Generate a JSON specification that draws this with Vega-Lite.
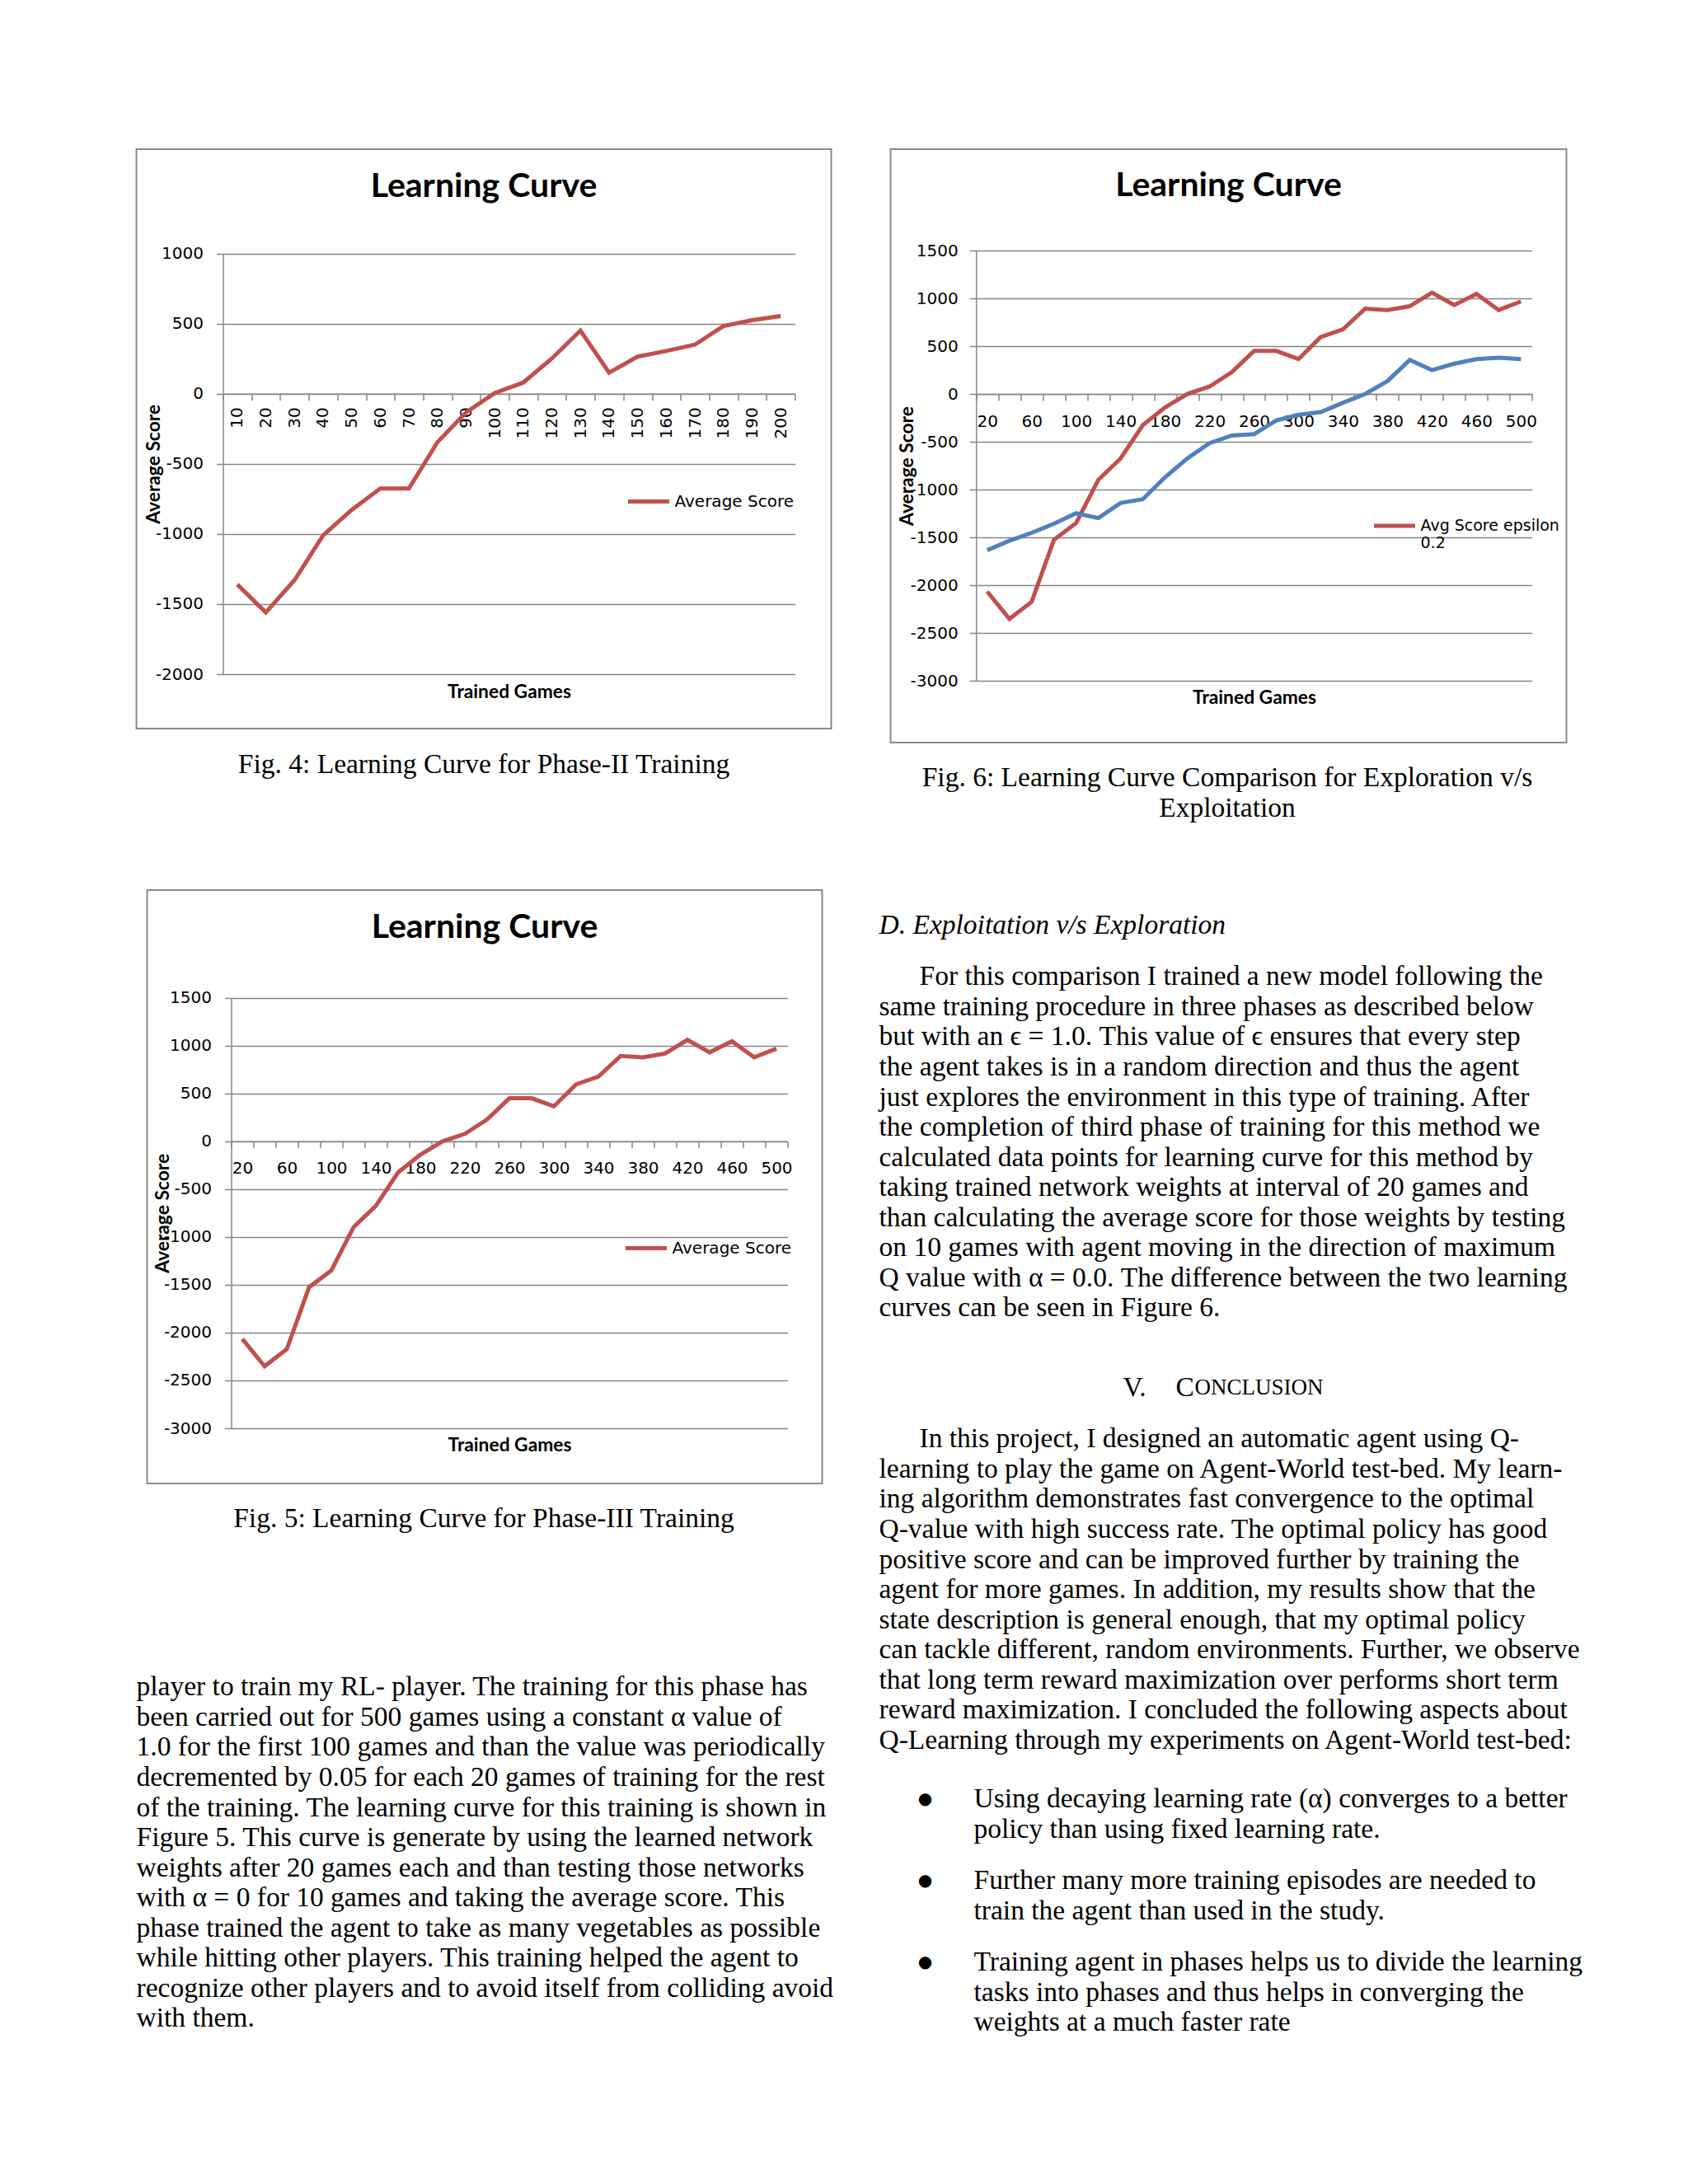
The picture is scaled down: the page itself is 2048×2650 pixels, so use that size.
{
"$schema": "https://vega.github.io/schema/vega-lite/v6.json",
"background": "white",
"padding": {"left": 154.5, "top": 180, "right": 10, "bottom": 10},
"spacing": 55,
"resolve": {"scale": {"color": "independent"}, "legend": {"color": "independent"}},
"config": {
  "view": {"stroke": null},
  "text": {"font": "Liberation Serif", "fontSize": 33.5, "color": "#000000", "baseline": "middle", "align": "left"},
  "axis": {"labelFont": "DejaVu Sans", "labelFontSize": 20, "labelColor": "#000000", "titleFont": "Lato", "titleFontWeight": "bold", "titleFontSize": 22.8, "titleColor": "#000000", "domainColor": "#868686", "domainWidth": 1.5, "tickColor": "#868686", "tickWidth": 1.5, "tickSize": 8, "gridColor": "#868686", "gridWidth": 1.5, "gridOpacity": 1},
  "title": {"font": "Lato", "fontWeight": "bold", "fontSize": 41, "color": "#000000", "anchor": "middle", "frame": "group", "baseline": "middle"},
  "legend": {"labelFont": "DejaVu Sans", "labelFontSize": 20, "labelColor": "#000000", "symbolType": "stroke", "symbolSize": 2500, "symbolStrokeWidth": 5, "labelOffset": 4, "padding": 0, "orient": "none", "labelLimit": 400}
},
"datasets": {
  "fig4": [
    {"games": 10, "score": -1360, "series": "Average Score"},
    {"games": 20, "score": -1560, "series": "Average Score"},
    {"games": 30, "score": -1330, "series": "Average Score"},
    {"games": 40, "score": -1010, "series": "Average Score"},
    {"games": 50, "score": -828, "series": "Average Score"},
    {"games": 60, "score": -676, "series": "Average Score"},
    {"games": 70, "score": -676, "series": "Average Score"},
    {"games": 80, "score": -345, "series": "Average Score"},
    {"games": 90, "score": -133, "series": "Average Score"},
    {"games": 100, "score": 5, "series": "Average Score"},
    {"games": 110, "score": 80, "series": "Average Score"},
    {"games": 120, "score": 252, "series": "Average Score"},
    {"games": 130, "score": 451, "series": "Average Score"},
    {"games": 140, "score": 151, "series": "Average Score"},
    {"games": 150, "score": 265, "series": "Average Score"},
    {"games": 160, "score": 305, "series": "Average Score"},
    {"games": 170, "score": 350, "series": "Average Score"},
    {"games": 180, "score": 483, "series": "Average Score"},
    {"games": 190, "score": 525, "series": "Average Score"},
    {"games": 200, "score": 554, "series": "Average Score"}
  ],
  "fig5": [
    {"games": 20, "score": -2066, "series": "Average Score"},
    {"games": 40, "score": -2352, "series": "Average Score"},
    {"games": 60, "score": -2173, "series": "Average Score"},
    {"games": 80, "score": -1526, "series": "Average Score"},
    {"games": 100, "score": -1350, "series": "Average Score"},
    {"games": 120, "score": -898, "series": "Average Score"},
    {"games": 140, "score": -674, "series": "Average Score"},
    {"games": 160, "score": -325, "series": "Average Score"},
    {"games": 180, "score": -140, "series": "Average Score"},
    {"games": 200, "score": 0, "series": "Average Score"},
    {"games": 220, "score": 78, "series": "Average Score"},
    {"games": 240, "score": 228, "series": "Average Score"},
    {"games": 260, "score": 450, "series": "Average Score"},
    {"games": 280, "score": 450, "series": "Average Score"},
    {"games": 300, "score": 365, "series": "Average Score"},
    {"games": 320, "score": 596, "series": "Average Score"},
    {"games": 340, "score": 676, "series": "Average Score"},
    {"games": 360, "score": 892, "series": "Average Score"},
    {"games": 380, "score": 878, "series": "Average Score"},
    {"games": 400, "score": 918, "series": "Average Score"},
    {"games": 420, "score": 1060, "series": "Average Score"},
    {"games": 440, "score": 930, "series": "Average Score"},
    {"games": 460, "score": 1046, "series": "Average Score"},
    {"games": 480, "score": 878, "series": "Average Score"},
    {"games": 500, "score": 968, "series": "Average Score"}
  ],
  "fig6": [
    {"games": 20, "score": -2066, "series": "Avg Score epsilon 0.2"},
    {"games": 40, "score": -2352, "series": "Avg Score epsilon 0.2"},
    {"games": 60, "score": -2173, "series": "Avg Score epsilon 0.2"},
    {"games": 80, "score": -1526, "series": "Avg Score epsilon 0.2"},
    {"games": 100, "score": -1350, "series": "Avg Score epsilon 0.2"},
    {"games": 120, "score": -898, "series": "Avg Score epsilon 0.2"},
    {"games": 140, "score": -674, "series": "Avg Score epsilon 0.2"},
    {"games": 160, "score": -325, "series": "Avg Score epsilon 0.2"},
    {"games": 180, "score": -140, "series": "Avg Score epsilon 0.2"},
    {"games": 200, "score": 0, "series": "Avg Score epsilon 0.2"},
    {"games": 220, "score": 78, "series": "Avg Score epsilon 0.2"},
    {"games": 240, "score": 228, "series": "Avg Score epsilon 0.2"},
    {"games": 260, "score": 450, "series": "Avg Score epsilon 0.2"},
    {"games": 280, "score": 450, "series": "Avg Score epsilon 0.2"},
    {"games": 300, "score": 365, "series": "Avg Score epsilon 0.2"},
    {"games": 320, "score": 596, "series": "Avg Score epsilon 0.2"},
    {"games": 340, "score": 676, "series": "Avg Score epsilon 0.2"},
    {"games": 360, "score": 892, "series": "Avg Score epsilon 0.2"},
    {"games": 380, "score": 878, "series": "Avg Score epsilon 0.2"},
    {"games": 400, "score": 918, "series": "Avg Score epsilon 0.2"},
    {"games": 420, "score": 1060, "series": "Avg Score epsilon 0.2"},
    {"games": 440, "score": 930, "series": "Avg Score epsilon 0.2"},
    {"games": 460, "score": 1046, "series": "Avg Score epsilon 0.2"},
    {"games": 480, "score": 878, "series": "Avg Score epsilon 0.2"},
    {"games": 500, "score": 968, "series": "Avg Score epsilon 0.2"},
    {"games": 20, "score": -1634, "series": "Avg Score epsilon 1.0"},
    {"games": 40, "score": -1535, "series": "Avg Score epsilon 1.0"},
    {"games": 60, "score": -1452, "series": "Avg Score epsilon 1.0"},
    {"games": 80, "score": -1357, "series": "Avg Score epsilon 1.0"},
    {"games": 100, "score": -1247, "series": "Avg Score epsilon 1.0"},
    {"games": 120, "score": -1298, "series": "Avg Score epsilon 1.0"},
    {"games": 140, "score": -1140, "series": "Avg Score epsilon 1.0"},
    {"games": 160, "score": -1100, "series": "Avg Score epsilon 1.0"},
    {"games": 180, "score": -871, "series": "Avg Score epsilon 1.0"},
    {"games": 200, "score": -673, "series": "Avg Score epsilon 1.0"},
    {"games": 220, "score": -514, "series": "Avg Score epsilon 1.0"},
    {"games": 240, "score": -435, "series": "Avg Score epsilon 1.0"},
    {"games": 260, "score": -420, "series": "Avg Score epsilon 1.0"},
    {"games": 280, "score": -277, "series": "Avg Score epsilon 1.0"},
    {"games": 300, "score": -218, "series": "Avg Score epsilon 1.0"},
    {"games": 320, "score": -190, "series": "Avg Score epsilon 1.0"},
    {"games": 340, "score": -91, "series": "Avg Score epsilon 1.0"},
    {"games": 360, "score": 0, "series": "Avg Score epsilon 1.0"},
    {"games": 380, "score": 135, "series": "Avg Score epsilon 1.0"},
    {"games": 400, "score": 356, "series": "Avg Score epsilon 1.0"},
    {"games": 420, "score": 249, "series": "Avg Score epsilon 1.0"},
    {"games": 440, "score": 317, "series": "Avg Score epsilon 1.0"},
    {"games": 460, "score": 364, "series": "Avg Score epsilon 1.0"},
    {"games": 480, "score": 380, "series": "Avg Score epsilon 1.0"},
    {"games": 500, "score": 364, "series": "Avg Score epsilon 1.0"}
  ]
},
"hconcat": [
  {
    "spacing": 0,
    "resolve": {"scale": {"color": "independent"}, "legend": {"color": "independent"}},
    "vconcat": [
      {
        "width": 843, "height": 703,
        "view": {"stroke": "#8a8a8a", "strokeWidth": 2},
        "title": {"text": "Learning Curve", "offset": -67},
        "data": {"name": "fig4"},
        "mark": {"type": "line", "strokeWidth": 5},
        "encoding": {
          "x": {"field": "games", "type": "ordinal", "bandPosition": 0.5,
            "scale": {"type": "band", "range": [105, 799], "paddingInner": 0, "paddingOuter": 0},
            "axis": {"title": "Trained Games", "titleY": 362, "titleBaseline": "middle", "offset": -406.2, "labelAngle": -90, "labelPadding": 8, "tickBand": "extent", "labelOverlap": false, "grid": false}},
          "y": {"field": "score", "type": "quantitative",
            "scale": {"domain": [-2000, 1000], "range": [637, 126.7], "nice": false, "zero": false},
            "axis": {"title": "Average Score", "titleX": -84, "titleBaseline": "middle", "offset": -105, "values": [-2000, -1500, -1000, -500, 0, 500, 1000], "labelExpr": "'' + datum.value", "labelPadding": 16, "grid": true, "labelFlush": false, "labelOverlap": false}},
          "color": {"field": "series", "type": "nominal", "scale": {"range": ["#C0504D"]}, "legend": {"title": null, "legendX": 594, "legendY": 400}}
        }
      },
      {"width": 10, "height": 24.7, "data": {"values": []}, "mark": "text", "encoding": {}},
      {
        "width": 843, "height": 36.56,
        "data": {"values": [{"row": 0, "t": "Fig. 4: Learning Curve for Phase-II Training"}]},
        "mark": {"type": "text", "align": "center"},
        "encoding": {"y": {"field": "row", "type": "ordinal", "axis": null, "scale": {"type": "point", "padding": 0.5}}, "x": {"value": 421.5}, "text": {"field": "t"}}
      },
      {"width": 10, "height": 131.2, "data": {"values": []}, "mark": "text", "encoding": {}},
      {
        "spacing": 0,
        "resolve": {"scale": {"color": "independent"}, "legend": {"color": "independent"}},
        "hconcat": [
          {"width": 12, "height": 720, "data": {"values": []}, "mark": "text", "encoding": {}},
          {
            "width": 819, "height": 720,
            "view": {"stroke": "#8a8a8a", "strokeWidth": 2},
            "title": {"text": "Learning Curve", "offset": -66.5},
            "data": {"name": "fig5"},
            "mark": {"type": "line", "strokeWidth": 5},
            "encoding": {
              "x": {"field": "games", "type": "ordinal", "bandPosition": 0.5,
                "scale": {"type": "band", "range": [102, 777], "paddingInner": 0, "paddingOuter": 0},
                "axis": {"title": "Trained Games", "titleY": 368.2, "titleBaseline": "middle", "offset": -415.2, "labelAngle": 0, "labelPadding": 15, "tickBand": "extent", "labelOverlap": false, "labelFlush": false, "grid": false, "labelExpr": "(datum.value - 20) % 40 == 0 ? '' + datum.value : ''"}},
              "y": {"field": "score", "type": "quantitative",
                "scale": {"domain": [-3000, 1500], "range": [653, 130.7], "nice": false, "zero": false},
                "axis": {"title": "Average Score", "titleX": -83.4, "titleBaseline": "middle", "offset": -102, "values": [-3000, -2500, -2000, -1500, -1000, -500, 0, 500, 1000, 1500], "labelExpr": "'' + datum.value", "labelPadding": 16, "grid": true, "labelFlush": false, "labelOverlap": false}},
              "color": {"field": "series", "type": "nominal", "scale": {"range": ["#C0504D"]}, "legend": {"title": null, "legendX": 578, "legendY": 407}}
            }
          }
        ]
      },
      {"width": 10, "height": 23.9, "data": {"values": []}, "mark": "text", "encoding": {}},
      {
        "width": 843, "height": 36.56,
        "data": {"values": [{"row": 0, "t": "Fig. 5: Learning Curve for Phase-III Training"}]},
        "mark": {"type": "text", "align": "center"},
        "encoding": {"y": {"field": "row", "type": "ordinal", "axis": null, "scale": {"type": "point", "padding": 0.5}}, "x": {"value": 421.5}, "text": {"field": "t"}}
      },
      {"width": 10, "height": 166.2, "data": {"values": []}, "mark": "text", "encoding": {}},
      {
        "width": 843, "height": 438.72,
        "data": {"values": [
          {"row": 0, "t": "player to train my RL- player. The training for this phase has"},
          {"row": 1, "t": "been carried out for 500 games using a constant α value of"},
          {"row": 2, "t": "1.0 for the first 100 games and than the value was periodically"},
          {"row": 3, "t": "decremented by 0.05 for each 20 games of training for the rest"},
          {"row": 4, "t": "of the training. The learning curve for this training is shown in"},
          {"row": 5, "t": "Figure 5. This curve is generate by using the learned network"},
          {"row": 6, "t": "weights after 20 games each and than testing those networks"},
          {"row": 7, "t": "with α = 0 for 10 games and taking the average score. This"},
          {"row": 8, "t": "phase trained the agent to take as many vegetables as possible"},
          {"row": 9, "t": "while hitting other players. This training helped the agent to"},
          {"row": 10, "t": "recognize other players and to avoid itself from colliding avoid"},
          {"row": 11, "t": "with them."}
        ]},
        "mark": {"type": "text"},
        "encoding": {"y": {"field": "row", "type": "ordinal", "axis": null, "scale": {"type": "point", "padding": 0.5}}, "x": {"value": 0}, "text": {"field": "t"}}
      }
    ]
  },
  {
    "spacing": 0,
    "resolve": {"scale": {"color": "independent"}, "legend": {"color": "independent"}},
    "vconcat": [
      {
        "spacing": 0,
        "resolve": {"scale": {"color": "independent"}, "legend": {"color": "independent"}},
        "hconcat": [
          {"width": 13, "height": 720, "data": {"values": []}, "mark": "text", "encoding": {}},
          {
            "width": 820, "height": 720,
            "view": {"stroke": "#8a8a8a", "strokeWidth": 2},
            "title": {"text": "Learning Curve", "offset": -66},
            "data": {"name": "fig6"},
            "mark": {"type": "line", "strokeWidth": 5},
            "encoding": {
              "x": {"field": "games", "type": "ordinal", "bandPosition": 0.5,
                "scale": {"type": "band", "range": [103.7, 778.3], "paddingInner": 0, "paddingOuter": 0},
                "axis": {"title": "Trained Games", "titleY": 368.8, "titleBaseline": "middle", "offset": -423, "labelAngle": 0, "labelPadding": 15, "tickBand": "extent", "labelOverlap": false, "labelFlush": false, "grid": false, "labelExpr": "(datum.value - 20) % 40 == 0 ? '' + datum.value : ''"}},
              "y": {"field": "score", "type": "quantitative",
                "scale": {"domain": [-3000, 1500], "range": [645.1, 123], "nice": false, "zero": false},
                "axis": {"title": "Average Score", "titleX": -83.7, "titleBaseline": "middle", "offset": -103.7, "values": [-3000, -2500, -2000, -1500, -1000, -500, 0, 500, 1000, 1500], "labelExpr": "'' + datum.value", "labelPadding": 14, "grid": true, "labelFlush": false, "labelOverlap": false}},
              "color": {"field": "series", "type": "nominal", "scale": {"domain": ["Avg Score epsilon 0.2", "Avg Score epsilon 1.0"], "range": ["#C0504D", "#4F81BD"]}, "legend": {"title": null, "legendX": 584, "legendY": 429.6, "labelFontSize": 19, "values": ["Avg Score epsilon 0.2"], "labelExpr": "datum.value == 'Avg Score epsilon 0.2' ? ['Avg Score epsilon', '0.2'] : datum.label"}}
            }
          }
        ]
      },
      {"width": 10, "height": 23.7, "data": {"values": []}, "mark": "text", "encoding": {}},
      {
        "width": 845, "height": 73.12,
        "data": {"values": [
          {"row": 0, "t": "Fig. 6: Learning Curve Comparison for Exploration v/s"},
          {"row": 1, "t": "Exploitation"}
        ]},
        "mark": {"type": "text", "align": "center"},
        "encoding": {"y": {"field": "row", "type": "ordinal", "axis": null, "scale": {"type": "point", "padding": 0.5}}, "x": {"value": 422.5}, "text": {"field": "t"}}
      },
      {"width": 10, "height": 104.4, "data": {"values": []}, "mark": "text", "encoding": {}},
      {
        "width": 845, "height": 36.56,
        "data": {"values": [{"row": 0, "t": "D. Exploitation v/s Exploration"}]},
        "mark": {"type": "text", "fontStyle": "italic"},
        "encoding": {"y": {"field": "row", "type": "ordinal", "axis": null, "scale": {"type": "point", "padding": 0.5}}, "x": {"value": 0}, "text": {"field": "t"}}
      },
      {"width": 10, "height": 24.2, "data": {"values": []}, "mark": "text", "encoding": {}},
      {
        "width": 845, "height": 438.72,
        "data": {"values": [
          {"row": 0, "t": "For this comparison I trained a new model following the"},
          {"row": 1, "t": "same training procedure in three phases as described below"},
          {"row": 2, "t": "but with an ϵ = 1.0. This value of ϵ ensures that every step"},
          {"row": 3, "t": "the agent takes is in a random direction and thus the agent"},
          {"row": 4, "t": "just explores the environment in this type of training. After"},
          {"row": 5, "t": "the completion of third phase of training for this method we"},
          {"row": 6, "t": "calculated data points for learning curve for this method by"},
          {"row": 7, "t": "taking trained network weights at interval of 20 games and"},
          {"row": 8, "t": "than calculating the average score for those weights by testing"},
          {"row": 9, "t": "on 10 games with agent moving in the direction of maximum"},
          {"row": 10, "t": "Q value with α = 0.0. The difference between the two learning"},
          {"row": 11, "t": "curves can be seen in Figure 6."}
        ]},
        "encoding": {"y": {"field": "row", "type": "ordinal", "axis": null, "scale": {"type": "point", "padding": 0.5}}, "text": {"field": "t"}},
        "layer": [
          {"transform": [{"filter": "datum.row == 0"}], "mark": {"type": "text"}, "encoding": {"x": {"value": 49}}},
          {"transform": [{"filter": "datum.row > 0"}], "mark": {"type": "text"}, "encoding": {"x": {"value": 0}}}
        ]
      },
      {"width": 10, "height": 60, "data": {"values": []}, "mark": "text", "encoding": {}},
      {
        "width": 845, "height": 36.56,
        "data": {"values": [
          {"row": 0, "part": "num", "t": "V."},
          {"row": 0, "part": "cap", "t": "C"},
          {"row": 0, "part": "rest", "t": "ONCLUSION"}
        ]},
        "encoding": {"y": {"field": "row", "type": "ordinal", "axis": null, "scale": {"type": "point", "padding": 0.5}}, "text": {"field": "t"}},
        "layer": [
          {"transform": [{"filter": "datum.part == 'num'"}], "mark": {"type": "text"}, "encoding": {"x": {"value": 296}}},
          {"transform": [{"filter": "datum.part == 'cap'"}], "mark": {"type": "text"}, "encoding": {"x": {"value": 360}}},
          {"transform": [{"filter": "datum.part == 'rest'"}], "mark": {"type": "text", "fontSize": 27}, "encoding": {"x": {"value": 383}}}
        ]
      },
      {"width": 10, "height": 24.1, "data": {"values": []}, "mark": "text", "encoding": {}},
      {
        "width": 845, "height": 402.16,
        "data": {"values": [
          {"row": 0, "t": "In this project, I designed an automatic agent using Q-"},
          {"row": 1, "t": "learning to play the game on Agent-World test-bed. My learn-"},
          {"row": 2, "t": "ing algorithm demonstrates fast convergence to the optimal"},
          {"row": 3, "t": "Q-value with high success rate. The optimal policy has good"},
          {"row": 4, "t": "positive score and can be improved further by training the"},
          {"row": 5, "t": "agent for more games. In addition, my results show that the"},
          {"row": 6, "t": "state description is general enough, that my optimal policy"},
          {"row": 7, "t": "can tackle different, random environments. Further, we observe"},
          {"row": 8, "t": "that long term reward maximization over performs short term"},
          {"row": 9, "t": "reward maximization. I concluded the following aspects about"},
          {"row": 10, "t": "Q-Learning through my experiments on Agent-World test-bed:"}
        ]},
        "encoding": {"y": {"field": "row", "type": "ordinal", "axis": null, "scale": {"type": "point", "padding": 0.5}}, "text": {"field": "t"}},
        "layer": [
          {"transform": [{"filter": "datum.row == 0"}], "mark": {"type": "text"}, "encoding": {"x": {"value": 49}}},
          {"transform": [{"filter": "datum.row > 0"}], "mark": {"type": "text"}, "encoding": {"x": {"value": 0}}}
        ]
      },
      {"width": 10, "height": 33.8, "data": {"values": []}, "mark": "text", "encoding": {}},
      {
        "width": 845, "height": 73.12,
        "data": {"values": [
          {"row": 0, "t": "Using decaying learning rate (α) converges to a better"},
          {"row": 1, "t": "policy than using fixed learning rate."}
        ]},
        "encoding": {"y": {"field": "row", "type": "ordinal", "axis": null, "scale": {"type": "point", "padding": 0.5}}, "text": {"field": "t"}},
        "layer": [
          {"mark": {"type": "text"}, "encoding": {"x": {"value": 115}}},
          {"transform": [{"filter": "datum.row == 0"}], "mark": {"type": "text", "align": "center", "font": "DejaVu Sans", "fontSize": 20}, "encoding": {"x": {"value": 56}, "text": {"value": "●"}}}
        ]
      },
      {"width": 10, "height": 24.9, "data": {"values": []}, "mark": "text", "encoding": {}},
      {
        "width": 845, "height": 73.12,
        "data": {"values": [
          {"row": 0, "t": "Further many more training episodes are needed to"},
          {"row": 1, "t": "train the agent than used in the study."}
        ]},
        "encoding": {"y": {"field": "row", "type": "ordinal", "axis": null, "scale": {"type": "point", "padding": 0.5}}, "text": {"field": "t"}},
        "layer": [
          {"mark": {"type": "text"}, "encoding": {"x": {"value": 115}}},
          {"transform": [{"filter": "datum.row == 0"}], "mark": {"type": "text", "align": "center", "font": "DejaVu Sans", "fontSize": 20}, "encoding": {"x": {"value": 56}, "text": {"value": "●"}}}
        ]
      },
      {"width": 10, "height": 25, "data": {"values": []}, "mark": "text", "encoding": {}},
      {
        "width": 845, "height": 109.68,
        "data": {"values": [
          {"row": 0, "t": "Training agent in phases helps us to divide the learning"},
          {"row": 1, "t": "tasks into phases and thus helps in converging the"},
          {"row": 2, "t": "weights at a much faster rate"}
        ]},
        "encoding": {"y": {"field": "row", "type": "ordinal", "axis": null, "scale": {"type": "point", "padding": 0.5}}, "text": {"field": "t"}},
        "layer": [
          {"mark": {"type": "text"}, "encoding": {"x": {"value": 115}}},
          {"transform": [{"filter": "datum.row == 0"}], "mark": {"type": "text", "align": "center", "font": "DejaVu Sans", "fontSize": 20}, "encoding": {"x": {"value": 56}, "text": {"value": "●"}}}
        ]
      }
    ]
  }
]
}
